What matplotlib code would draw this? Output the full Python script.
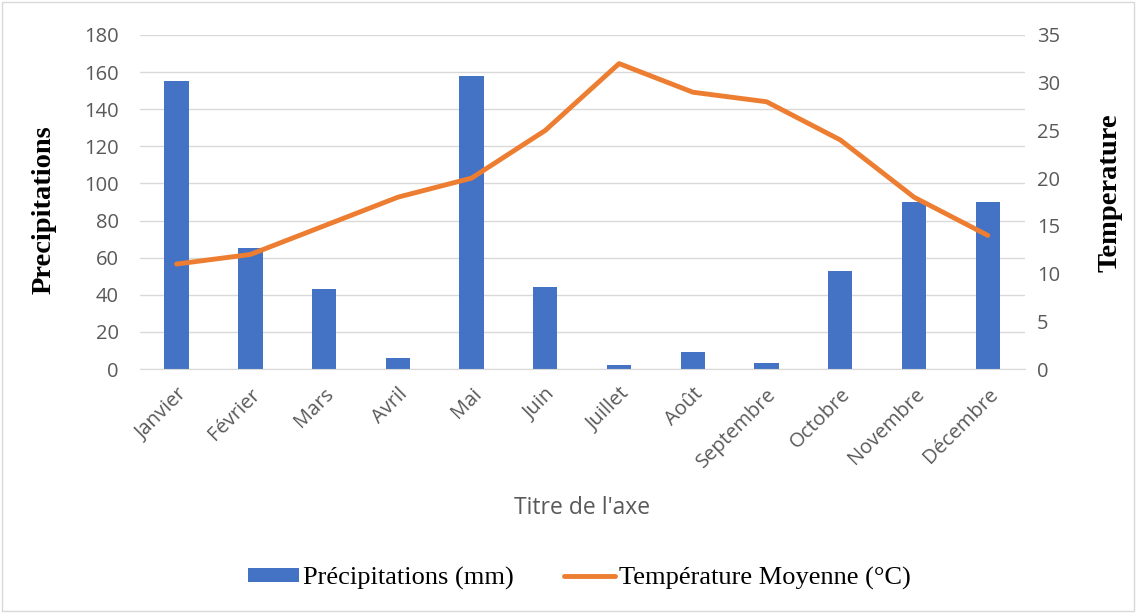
import matplotlib.pyplot as plt
from matplotlib.patches import Rectangle

mois = ["Janvier", "Février", "Mars", "Avril", "Mai", "Juin", "Juillet",
        "Août", "Septembre", "Octobre", "Novembre", "Décembre"]
precip = [155, 65, 43, 6, 158, 44, 2, 9, 3, 53, 90, 90]
temp = [11, 12, 15, 18, 20, 25, 32, 29, 28, 24, 18, 14]

bleu = "#4472C4"
orange = "#ED7D31"
gris = "#595959"
tick_font = "Open Sans"
serif = "Liberation Serif"
tsize = 14.5

fig = plt.figure(figsize=(11.36, 6.13), dpi=100)
ax = fig.add_axes([0.123, 0.398, 0.779, 0.545])
ax2 = ax.twinx()

x = range(len(mois))
ax.bar(x, precip, width=0.33, color=bleu, zorder=2, label="Précipitations (mm)")
ax2.plot(x, temp, color=orange, lw=3.5, solid_capstyle="round", label="Température Moyenne (°C)")

ax.set_xlim(-0.5, 11.5)
ax.set_ylim(0, 180)
ax.set_yticks(range(0, 181, 20))
ax2.set_ylim(0, 35)
ax2.set_yticks(range(0, 36, 5))
ax.grid(axis="y", color="#D9D9D9", lw=1, zorder=0)
ax.set_axisbelow(True)

for a in (ax, ax2):
    for s in a.spines.values():
        s.set_visible(False)
    a.tick_params(length=0, labelsize=tsize, labelcolor=gris)
    for lab in a.get_yticklabels():
        lab.set_family(tick_font)
ax.spines["bottom"].set_visible(True)
ax.spines["bottom"].set_color("#D9D9D9")

ax.set_xticks(list(x))
ax.set_xticklabels(mois, rotation=45, ha="right", rotation_mode="anchor",
                   family=tick_font, fontsize=tsize, color=gris)
ax.tick_params(axis="x", pad=11)
ax.tick_params(axis="y", pad=15)
ax2.tick_params(axis="y", pad=9)

ax.set_ylabel("Precipitations", family=serif, fontweight="bold", fontsize=20.5)
ax.yaxis.set_label_coords(-0.094, 0.476)
ax2.set_ylabel("Temperature", family=serif, fontweight="bold", fontsize=20.5)
ax2.yaxis.set_label_coords(1.0825, 0.527)
ax.set_xlabel("Titre de l'axe", family=tick_font, fontsize=16.5, color=gris)
ax.xaxis.set_label_coords(0.5, -0.416)
ax.xaxis.label.set_va("center")

h1, l1 = ax.get_legend_handles_labels()
h2, l2 = ax2.get_legend_handles_labels()
fig.legend(h1 + h2, l1 + l2, loc="center", bbox_to_anchor=(0.51, 0.057), ncol=2,
           frameon=False, prop={"family": serif, "size": 19}, handlelength=1.95,
           handleheight=0.45, columnspacing=1.9, handletextpad=0.15)

fig.patches.append(Rectangle((0.002, 0.003), 0.996, 0.994, transform=fig.transFigure,
                             fill=False, edgecolor="#D9D9D9", lw=1))

fig.savefig("out.png", dpi=100)
